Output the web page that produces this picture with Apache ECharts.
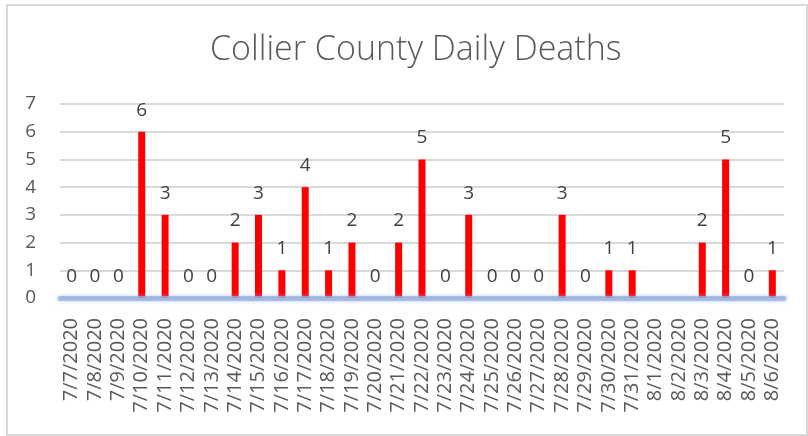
<!DOCTYPE html>
<html>
<head>
<meta charset="utf-8">
<title>Collier County Daily Deaths</title>
<script src="https://cdn.jsdelivr.net/npm/echarts@6/dist/echarts.min.js"></script>
<style>
  html, body { margin: 0; padding: 0; background: #fff; }
  #main { width: 808px; height: 436px; }
</style>
</head>
<body>
<div id="main"></div>
<script>
// data (8/1 and 8/2 have no value)
var days = ['7/7/2020', '7/8/2020', '7/9/2020', '7/10/2020', '7/11/2020', '7/12/2020', '7/13/2020',
  '7/14/2020', '7/15/2020', '7/16/2020', '7/17/2020', '7/18/2020', '7/19/2020', '7/20/2020',
  '7/21/2020', '7/22/2020', '7/23/2020', '7/24/2020', '7/25/2020', '7/26/2020', '7/27/2020',
  '7/28/2020', '7/29/2020', '7/30/2020', '7/31/2020', '8/1/2020', '8/2/2020', '8/3/2020',
  '8/4/2020', '8/5/2020', '8/6/2020'];
var deaths = [0, 0, 0, 6, 3, 0, 0, 2, 3, 1, 4, 1, 2, 0, 2, 5, 0, 3, 0, 0, 0, 3, 0, 1, 1, null, null, 2, 5, 0, 1];
var yTicks = [0, 1, 2, 3, 4, 5, 6, 7];

var font = 'Open Sans';
var grey = '#595959';

var myChart = echarts.init(document.getElementById('main'));
var option = {
  backgroundColor: '#fff',
  animation: false,
  title: {
    text: 'Collier County Daily Deaths',
    left: 205,
    top: 28,
    textStyle: { fontFamily: font, fontSize: 34, fontWeight: 300, color: grey }
  },
  graphic: [{
    type: 'rect',
    shape: { x: 7, y: 5, width: 800, height: 430 },
    style: { fill: 'none', stroke: '#d9d9d9', lineWidth: 2 },
    silent: true
  }],
  grid: { left: 60, right: 24, top: 104, bottom: 138 },
  xAxis: {
    type: 'category',
    data: days,
    z: 5,
    axisLine: {
      lineStyle: { color: 'rgba(150,178,225,0.75)', width: 5, cap: 'round',
        shadowBlur: 4, shadowColor: 'rgba(143,170,220,0.8)' }
    },
    axisTick: { show: false },
    axisLabel: {
      rotate: 90, interval: 0, margin: 20,
      fontFamily: font, fontSize: 20, color: grey
    }
  },
  yAxis: {
    type: 'value',
    min: 0, max: yTicks[yTicks.length - 1], interval: 1,
    axisLine: { show: false },
    axisTick: { show: false },
    splitLine: { lineStyle: { color: '#d9d9d9', width: 2 } },
    axisLabel: {
      margin: 24, fontFamily: font, fontSize: 19, color: grey,
      formatter: function (v) { return yTicks.indexOf(v) >= 0 ? String(v) : ''; }
    }
  },
  series: [{
    type: 'bar',
    data: deaths,
    barWidth: 7,
    itemStyle: { color: '#ff0000' },
    label: {
      show: true, position: 'top', distance: 12,
      fontFamily: font, fontSize: 19, color: '#404040'
    }
  }]
};
myChart.setOption(option);
</script>
</body>
</html>
